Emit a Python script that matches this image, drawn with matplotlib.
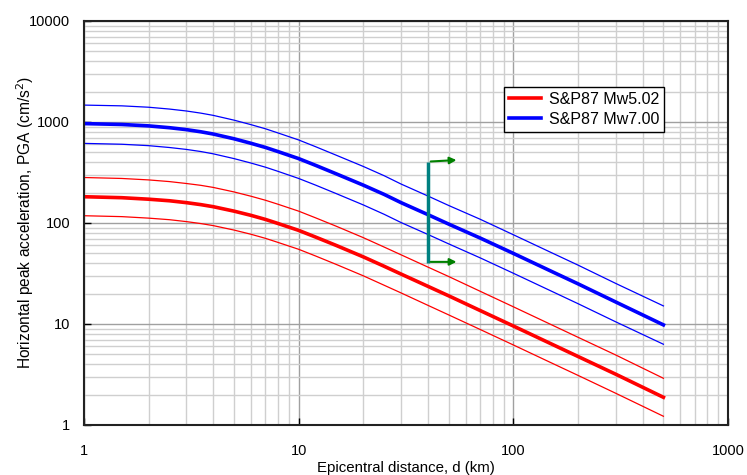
import numpy as np
import matplotlib
matplotlib.use("Agg")
import matplotlib.pyplot as plt
from matplotlib.ticker import FixedLocator, FixedFormatter, LogLocator, NullFormatter

plt.rcParams['font.family'] = ['Liberation Sans', 'DejaVu Sans']

# distances (km)
dist = [1, 1.5, 2, 2.5, 3, 3.5, 4, 5, 6, 7, 8, 10, 12, 15, 20, 25, 30, 40, 50, 70, 100, 150, 200, 300, 500]

# Mw 5.02 (median, +1 sigma, -1 sigma), cm/s2
red_mid = [182, 178, 172, 166, 159, 152, 145, 131, 119, 108.5, 99, 84.5, 72.5, 59.8, 46.2, 37.3, 31.2, 23.6, 19, 13.6, 9.55, 6.36, 4.77, 3.18, 1.88]
red_hi = [282, 276, 267, 257, 246, 236, 225, 203, 184, 168, 153.5, 131, 112.4, 92.7, 71.6, 57.8, 48.4, 36.6, 29.5, 21.1, 14.8, 9.86, 7.39, 4.93, 2.9]
red_lo = [118, 115.6, 111.7, 107.8, 103.2, 98.7, 94.2, 85.1, 77.3, 70.5, 64.3, 54.9, 47.1, 38.8, 30, 24.2, 20.3, 15.3, 12.3, 8.83, 6.2, 4.13, 3.1, 2.06, 1.22]

# Mw 7.00
blue_mid = [964, 945, 915, 878, 840, 800, 760, 682, 615, 560, 510, 434, 372, 306, 237, 192, 159, 121, 97.5, 71, 50, 33.3, 25, 16.5, 9.8]
blue_hi = [1470, 1445, 1400, 1343, 1285, 1224, 1163, 1043, 941, 857, 780, 664, 569, 468, 363, 294, 243, 185, 149, 109, 76.5, 51, 38.3, 25.2, 15.1]
blue_lo = [614, 602, 583, 559, 535, 510, 484, 434, 392, 357, 325, 276, 237, 195, 151, 122, 101, 77, 62.1, 45.2, 31.8, 21.2, 15.9, 10.5, 6.3]

# marker at d = 40 km
mark_d = 40
mark_top = 405
mark_bot = 40
arrow_end = 56

fig = plt.figure(figsize=(7.47, 4.75), dpi=100)
ax = fig.add_axes([0.1124, 0.1053, 0.8622, 0.8505])

ax.set_xscale('log')
ax.set_yscale('log')
ax.set_xlim(1, 1000)
ax.set_ylim(1, 10000)

ax.grid(True, which='minor', color='#cfcfcf', linewidth=1.0)
ax.grid(True, which='major', color='#a0a0a0', linewidth=1.0)
ax.set_axisbelow(True)

ax.plot(dist, red_hi, color='#ff0000', linewidth=0.9)
ax.plot(dist, red_lo, color='#ff0000', linewidth=0.9)
ax.plot(dist, red_mid, color='#ff0000', linewidth=2.6, label='S&P87 Mw5.02')
ax.plot(dist, blue_hi, color='#0000ff', linewidth=0.9)
ax.plot(dist, blue_lo, color='#0000ff', linewidth=0.9)
ax.plot(dist, blue_mid, color='#0000ff', linewidth=2.6, label='S&P87 Mw7.00')

ax.plot([mark_d, mark_d], [mark_bot, mark_top], color='#008080', linewidth=2.5, solid_capstyle='butt')
ax.annotate('', xy=(arrow_end, mark_top * 1.04), xytext=(mark_d, mark_top),
            arrowprops=dict(arrowstyle='-|>', color='#008000', lw=1.5, mutation_scale=10))
ax.annotate('', xy=(arrow_end, mark_bot * 1.03), xytext=(mark_d, mark_bot * 1.03),
            arrowprops=dict(arrowstyle='-|>', color='#008000', lw=1.5, mutation_scale=10))

ax.xaxis.set_major_locator(FixedLocator([1, 10, 100, 1000]))
ax.xaxis.set_major_formatter(FixedFormatter(['1', '10', '100', '1000']))
ax.yaxis.set_major_locator(FixedLocator([1, 10, 100, 1000, 10000]))
ax.yaxis.set_major_formatter(FixedFormatter(['1', '10', '100', '1000', '10000']))
ax.xaxis.set_minor_locator(LogLocator(base=10, subs=np.arange(2, 10)))
ax.yaxis.set_minor_locator(LogLocator(base=10, subs=np.arange(2, 10)))
ax.xaxis.set_minor_formatter(NullFormatter())
ax.yaxis.set_minor_formatter(NullFormatter())

ax.tick_params(which='major', direction='in', length=5, width=1, labelsize=10.5)
ax.tick_params(which='minor', length=0)
ax.tick_params(axis='x', pad=14)
ax.tick_params(axis='y', pad=10)

for s in ax.spines.values():
    s.set_color('#222222')
    s.set_linewidth(1.5)

ax.set_xlabel('Epicentral distance, d (km)', fontsize=10.8, labelpad=2)
ax.set_ylabel('Horizontal peak acceleration, PGA (cm/s$^2$)', fontsize=11.2, labelpad=-5)

leg = ax.legend(loc='upper left', bbox_to_anchor=(0.652, 0.836), fontsize=11.5,
                frameon=True, fancybox=False, edgecolor='black', framealpha=1,
                handlelength=2.0, borderpad=0.3, labelspacing=0.3, handletextpad=0.5,
                borderaxespad=0)
leg.get_frame().set_linewidth(1.0)

fig.savefig('out.png', dpi=100)
